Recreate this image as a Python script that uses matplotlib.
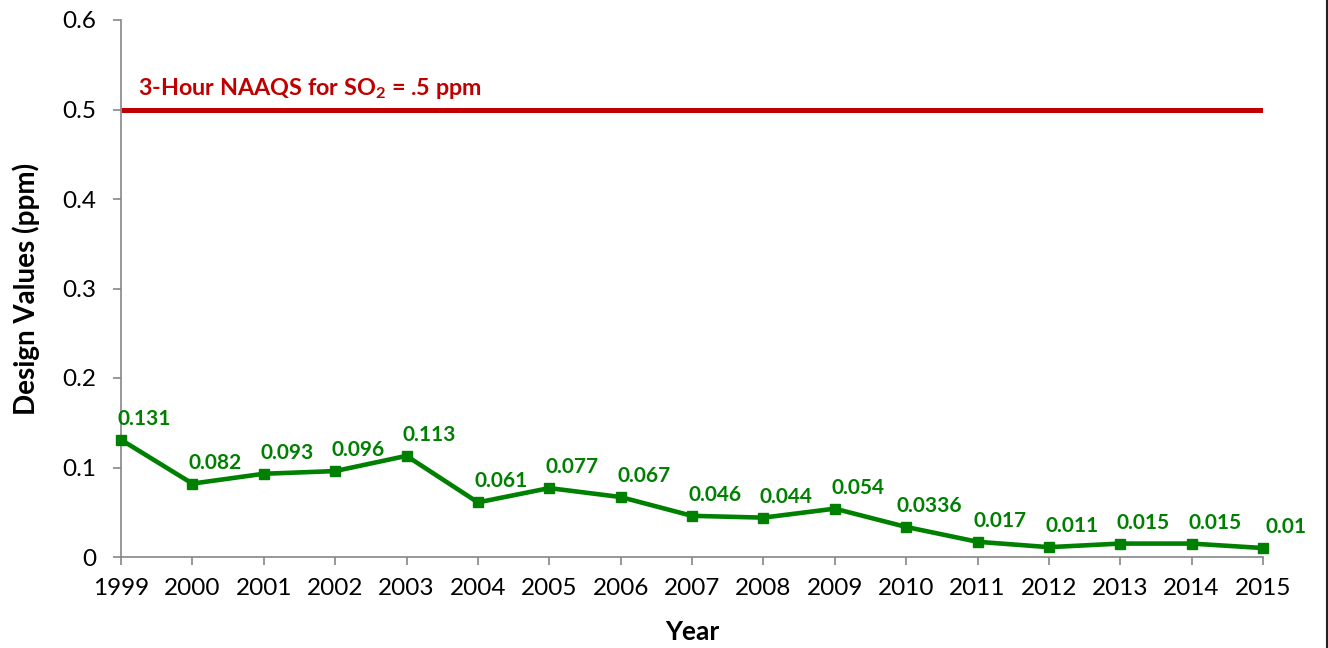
import numpy as np, matplotlib
matplotlib.use('Agg')
import matplotlib.pyplot as plt
from matplotlib.lines import Line2D
from matplotlib.ticker import FuncFormatter

plt.rcParams['font.family'] = ['Lato', 'DejaVu Sans']
plt.rcParams['mathtext.fontset'] = 'custom'
plt.rcParams['mathtext.bf'] = 'Lato:bold'
plt.rcParams['mathtext.rm'] = 'Lato:bold'

years = [1999, 2000, 2001, 2002, 2003, 2004, 2005, 2006, 2007, 2008,
         2009, 2010, 2011, 2012, 2013, 2014, 2015]
design_values = [0.131, 0.082, 0.093, 0.096, 0.113, 0.061, 0.077, 0.067, 0.046,
                 0.044, 0.054, 0.0336, 0.017, 0.011, 0.015, 0.015, 0.01]
value_labels = ['0.131', '0.082', '0.093', '0.096', '0.113', '0.061', '0.077', '0.067',
                '0.046', '0.044', '0.054', '0.0336', '0.017', '0.011', '0.015', '0.015', '0.01']
naaqs = 0.5
naaqs_label = r'3-Hour NAAQS for SO$_\mathbf{2}$ = .5 ppm'

green = '#008000'
red = '#C00000'
gray = '#868686'

fig = plt.figure(figsize=(13.28, 6.48), dpi=100)
ax = fig.add_axes([121/1328, 1 - 557/648, (1263 - 121)/1328, (557 - 20)/648])

# standard line
ax.plot([years[0], years[-1]], [naaqs, naaqs], color=red, lw=3.6, solid_capstyle='butt')
ax.annotate(naaqs_label, xy=(years[0], naaqs), xytext=(17, 21), textcoords='offset pixels',
            ha='left', va='center', color=red, fontsize=16.8, fontweight='bold')

# design values
ax.plot(years, design_values, color=green, lw=3.3, marker='s', markersize=7.5, clip_on=False, zorder=3)
for x, y, s in zip(years, design_values, value_labels):
    ax.annotate(s, xy=(x, y), xytext=(23, 21), textcoords='offset pixels',
                ha='center', va='center', color=green, fontsize=15, fontweight='bold',
                annotation_clip=False)

ax.set_xlim(years[0], years[-1])
ax.set_ylim(0, 0.6)
ax.set_xticks(years)
ax.set_yticks(np.arange(0, 0.61, 0.1))
ax.yaxis.set_major_formatter(FuncFormatter(lambda v, p: '%g' % round(v, 2)))

for side in ['top', 'right']:
    ax.spines[side].set_visible(False)
for side in ['left', 'bottom']:
    ax.spines[side].set_color(gray)
    ax.spines[side].set_linewidth(1.2)
ax.tick_params(axis='both', direction='out', length=6, width=1.2, color=gray, labelsize=17.5)
ax.tick_params(axis='y', pad=12)
ax.tick_params(axis='x', pad=9)

ax.set_ylabel('Design Values (ppm)', fontsize=20, fontweight='bold', labelpad=16)
ax.set_xlabel('Year', fontsize=19, fontweight='bold', labelpad=15)

# right border of the frame
fig.add_artist(Line2D([1326.5/1328, 1326.5/1328], [0, 1], color='#222222', lw=1.5,
                      transform=fig.transFigure))

fig.savefig('out.png', dpi=100)
